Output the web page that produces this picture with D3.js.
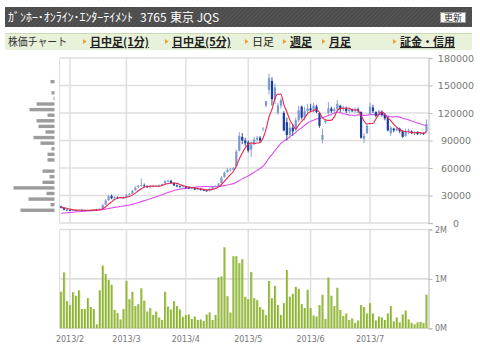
<!DOCTYPE html>
<html><head><meta charset="utf-8">
<script src="https://cdn.jsdelivr.net/npm/d3@7"></script>
<style>body{margin:0;background:#fff;}svg{display:block}</style>
</head><body>
<svg id="c" width="480" height="358"></svg>
<script>
// ---------- DATA ----------
const dates = [
"01-29","01-30","01-31",
"02-01","02-04","02-05","02-06","02-07","02-08","02-12","02-13","02-14","02-15","02-18","02-19","02-20","02-21","02-22","02-25","02-26","02-27","02-28",
"03-01","03-04","03-05","03-06","03-07","03-08","03-11","03-12","03-13","03-14","03-15","03-18","03-19","03-21","03-22","03-25","03-26","03-27","03-28","03-29",
"04-01","04-02","04-03","04-04","04-05","04-08","04-09","04-10","04-11","04-12","04-15","04-16","04-17","04-18","04-19","04-22","04-23","04-24","04-25","04-26","04-30",
"05-01","05-02","05-07","05-08","05-09","05-10","05-13","05-14","05-15","05-16","05-17","05-20","05-21","05-22","05-23","05-24","05-27","05-28","05-29","05-30","05-31",
"06-03","06-04","06-05","06-06","06-07","06-10","06-11","06-12","06-13","06-14","06-17","06-18","06-19","06-20","06-21","06-24","06-25","06-26","06-27","06-28",
"07-01","07-02","07-03","07-04","07-05","07-08","07-09","07-10","07-11","07-12","07-16","07-17","07-18","07-19","07-22","07-23","07-24","07-25","07-26","07-29"];
// prices in thousand yen
const openP = [18,16.5,14.5,14,13.5,14.2,13.8,14.3,14,13.5,14.2,13.8,14.6,14.3,16,20,25,29.5,27,28,27,27.8,28,30.5,32,36,39,40.5,41,40,39,40,40.5,40.8,41,43,45.5,46,43.5,41,40,39.5,40,38.5,37.5,38,36.5,37.5,36,35.5,35,37.5,39.5,40.5,43.5,50,55.5,58,58.5,62,79,94,90,88,80,86,91,93,103.5,128,145,155,135,120,128,120,110,96,104,102,112,127,115,122,125,123,127,120,91,110,120,125,122,124,128,124,125,122,123,122,124,121,92,98,119,126,121,118,121,118,115,98,103,101,103,100,95,100,100,98,99,97,98,100];
const highP = [19,17,15,14.5,14.5,14.6,14.6,14.8,14.3,14.5,14.6,15,15,16,20.5,26,30.5,31,29,29,28.5,28.5,32,33,36,40,41.5,48.5,43,41,40.5,41.5,41.5,42,43,47,47.5,47,44.5,42,41,41,40.5,39.5,38.5,38.5,38,38,37,36.5,38,40,41,43.5,51,56,60,60,61,80,99,98,93,90,88,94,95,95,104,133,163,159,152,131,136,122,115,110,108,115,128,128,127,130,130,131,129,121,103,113,132,127,126,134,129,128,127,126,125,126,126,122,98,108,131,129,122,124,123,120,116,106,104,105,104,101,103,103,101,100,100,99,99,113];
const lowP = [16,14,13.5,13,13.2,13.5,13.5,13.6,13,13.3,13.5,13.6,14,14.2,15.8,19.5,24,26,26.5,26.5,26.5,27,27.5,30,31.5,35,38,39.5,39.5,38,38,39,39.5,40,40.5,42.5,44.5,42.5,40.5,39,38.5,38.5,37.5,37,36.5,36,36,35.5,35,34,34.5,37,39,40,43,49.5,55,56.5,57.5,61,78,86,84,77,72,85,89,88,100,126,140,128,130,118,125,100,90,92,95,100,110,113,112,120,121,121,120,104,87,108,118,120,120,122,121,122,120,120,121,120,120,92,87,97,118,120,115,116,116,112,100,95,99,100,98,93,94,97,97,96,96,96,96,99];
const closeP = [16.5,14.5,14,13.5,14.2,13.8,14.3,14,13.5,14.2,13.8,14.6,14.3,15.5,19.5,24.5,29,27,28,27,27.8,27.3,30.5,31.5,35,38.5,40.5,41.5,40,39,40,40.5,40.8,41,42.5,45.5,46,43.5,41,40,39.5,40,38.5,37.5,38,36.5,37.5,36,35.5,35,37.5,39.5,40.5,43,49.5,55,58,58.5,60,78,95,90,87,79,86,91,93,90,104,133,158,135,148,128,134,101,96,104,100,112,123,115,122,125,123,128,121,106,96,112,125,122,124,130,124,126,122,124,122,124,122,93,95,106,127,122,117,122,118,114,101,104,101,103,100,94,100,101,98,99,97,98,97,108];
// closes of the 24 sessions before the first one (for the moving averages)
const priorCloses = [6.5,6.6,6.8,6.7,6.9,7.0,7.1,7.2,7.4,7.5,7.6,8.2,8.7,9.5,10.5,11.5,12.5,13.5,14,14.3,16,17.5,18,17];
// volume in million shares
const volumeM = [0.74,1.13,0.55,0.47,0.73,0.66,0.77,0.39,0.39,0.61,
0.43,0.39,0.08,0.77,1.27,1.10,0.98,0.88,0.37,0.31,
0.18,0.39,0.96,0.59,0.74,0.45,0.49,0.81,0.56,0.34,
0.41,0.27,0.34,0.22,0.17,0.74,0.44,0.38,0.55,0.45,
0.38,0.23,0.27,0.28,0.19,0.24,0.17,0.18,0.15,0.28,
0.32,0.17,0.27,1.03,1.05,1.64,0.65,0.32,1.46,1.46,
1.32,1.40,0.64,0.59,1.14,0.61,0.57,0.43,0.38,0.27,
0.96,0.61,0.86,0.47,0.27,0.51,1.18,0.64,0.70,0.84,
0.80,0.49,0.41,0.78,0.41,0.26,0.24,0.47,0.68,0.19,
1.03,0.66,0.45,0.82,0.37,0.25,0.30,0.17,0.20,0.11,
0.16,0.47,0.43,0.30,0.51,0.30,0.16,0.24,0.22,0.17,
0.30,0.45,0.14,0.22,0.12,0.28,0.36,0.18,0.11,0.08,
0.12,0.13,0.11,0.68];
// volume-by-price profile (price bin centre, relative volume)
const profilePrice = [13.9,20.0,26.1,32.2,38.3,44.4,50.5,56.6,62.7,68.8,74.9,81.0,87.1,93.2,99.3,105.4,111.5,117.6,123.7,129.8,135.9,142.0,148.1,154.2];
const profileVol = [34,4,26,8,41,12,5,12,0,7,7,3,14,21,9,16,18,7,25,18,1,3,0,4];
const monthDates = ["02-01","03-01","04-01","05-01","06-03","07-01"];
const monthLabels = ["2013/2","2013/3","2013/4","2013/5","2013/6","2013/7"];
const priceTicks = [0,30,60,90,120,150,180];
const priceTickLabels = ["0","30000","60000","90000","120000","150000","180000"];
const volTicks = [0,1,2];
const volTickLabels = ["0M","1M","2M"];
const titleText = "ｶﾞﾝﾎｰ･ｵﾝﾗｲﾝ･ｴﾝﾀｰﾃｲﾒﾝﾄ";
const titleCode = "3765", titleMarket = "東京 JQS";
const navItems = ["日中足(1分)","日中足(5分)","日足","週足","月足","証金・信用"];

// ---------- DRAW ----------
const svg = d3.select("#c");
const JP = "'Noto Sans CJK JP','Noto Sans',sans-serif";
const defs = svg.append("defs");
const pat = defs.append("pattern").attr("id","stripe").attr("width",3).attr("height",3)
  .attr("patternUnits","userSpaceOnUse").attr("patternTransform","rotate(45)");
pat.append("rect").attr("width",3).attr("height",3).attr("fill","#4b4b4b");
pat.append("rect").attr("width",1).attr("height",3).attr("fill","#585858");
const grad = defs.append("linearGradient").attr("id","vg").attr("x1",0).attr("x2",1).attr("y1",0).attr("y2",0);
grad.append("stop").attr("offset","0%").attr("stop-color","#7aa424");
grad.append("stop").attr("offset","100%").attr("stop-color","#b8d46c");

// header
svg.append("rect").attr("x",5).attr("y",7).attr("width",467).attr("height",20).attr("fill","url(#stripe)");
const tt = svg.append("text").attr("x",8).attr("y",21.5).attr("fill","#fff")
  .style("font-family",JP).style("font-size","12px");
tt.append("tspan").attr("textLength",125).text(titleText);
tt.append("tspan").attr("x",140).text(titleCode);
tt.append("tspan").attr("x",170).text(titleMarket);
svg.append("rect").attr("x",440.5).attr("y",12.5).attr("width",25).attr("height",10).attr("fill","#fafafa").attr("stroke","#999");
svg.append("text").attr("x",453).attr("y",21).attr("text-anchor","middle").attr("fill","#333")
  .style("font-family",JP).style("font-size","9px").text("更新");

// nav bar
svg.append("rect").attr("x",5).attr("y",33).attr("width",467).attr("height",17).attr("fill","#e8f1d9");
svg.append("line").attr("x1",5).attr("x2",472).attr("y1",33.5).attr("y2",33.5).attr("stroke","#c9d9b2");
svg.append("text").attr("x",8).attr("y",46).attr("fill","#333").style("font-family",JP).style("font-size","11px")
  .attr("textLength",59).attr("lengthAdjust","spacingAndGlyphs").text("株価チャート");
const navX = [90,172,252,290,329,400];
const navBold = [true,true,false,true,true,true];
navItems.forEach((t,i)=>{
  svg.append("path").attr("d",`M${navX[i]-7},${39}l3.5,2.5l-3.5,2.5z`).attr("fill","#f0a030");
  svg.append("text").attr("x",navX[i]).attr("y",46).attr("fill","#222")
    .style("font-family",JP).style("font-size","11px")
    .style("font-weight",navBold[i]?"bold":"normal")
    .style("text-decoration",navBold[i]?"underline":"none").text(t);
});

// scales
const x = d3.scaleBand().domain(dates).range([59.6,427.9]);
const cx = d => x(d) + x.bandwidth()/2;
const y = d3.scaleLinear().domain([0,180]).range([223,58]);
const yv = d3.scaleLinear().domain([0,2]).range([328.3,229.5]);
const L = 59.5, R = 428.5;

const grid = svg.append("g").attr("stroke","#dedede");
priceTicks.forEach(t=>grid.append("line").attr("x1",L).attr("x2",R).attr("y1",y(t)).attr("y2",y(t)).attr("stroke-width",1.6));
volTicks.forEach(t=>grid.append("line").attr("x1",L).attr("x2",R).attr("y1",yv(t)).attr("y2",yv(t)).attr("stroke-width",1.6));
monthDates.forEach(d=>{
  grid.append("line").attr("x1",cx(d)).attr("x2",cx(d)).attr("y1",58).attr("y2",223).attr("stroke-width",1.4);
  grid.append("line").attr("x1",cx(d)).attr("x2",cx(d)).attr("y1",229.5).attr("y2",328.3).attr("stroke-width",1.4);
});
grid.append("line").attr("x1",L).attr("x2",L).attr("y1",58).attr("y2",223);
grid.append("line").attr("x1",L).attr("x2",L).attr("y1",229.5).attr("y2",328.3);

// right axes
const axP = svg.append("g").attr("transform",`translate(${R},0)`)
  .call(d3.axisRight(y).tickValues(priceTicks).tickSize(4).tickFormat((d,i)=>priceTickLabels[i]));
axP.select(".domain").attr("stroke","#d0d0d0").attr("stroke-width",1.5);
axP.selectAll(".tick line").attr("stroke","#bbb");
axP.selectAll(".tick text").attr("x",27.5).attr("text-anchor","middle").attr("fill","#777")
  .style("font-family","'DejaVu Sans',sans-serif").style("font-size","9.5px");
const axV = svg.append("g").attr("transform",`translate(${R},0)`)
  .call(d3.axisRight(yv).tickValues(volTicks).tickSize(4).tickFormat((d,i)=>volTickLabels[i]));
axV.select(".domain").attr("stroke","#d0d0d0").attr("stroke-width",1.5);
axV.selectAll(".tick line").attr("stroke","#bbb");
axV.selectAll(".tick text").attr("x",6.5).attr("fill","#777")
  .style("font-family","'DejaVu Sans',sans-serif").style("font-size","8px");

// x labels
monthDates.forEach((d,i)=>svg.append("text").attr("x",cx(d)).attr("y",342).attr("text-anchor","middle")
  .attr("fill","#777").style("font-family","'DejaVu Sans',sans-serif").style("font-size","8px").text(monthLabels[i]));

// volume profile
const pw = d3.scaleLinear().domain([0,d3.max(profileVol)]).range([0,41]);
svg.append("g").selectAll("rect").data(profilePrice).join("rect")
  .attr("x",(p,i)=>54.5-pw(profileVol[i])).attr("width",(p,i)=>pw(profileVol[i]))
  .attr("y",p=>y(p)-1.7).attr("height",3.4).attr("fill","#9c9c9c");

// volume bars
svg.append("g").selectAll("rect").data(dates).join("rect")
  .attr("x",d=>cx(d)-0.9).attr("width",2.2)
  .attr("y",(d,i)=>yv(volumeM[i])).attr("height",(d,i)=>yv(0)-yv(volumeM[i]))
  .attr("fill","url(#vg)");

// moving averages
const allClose = priorCloses.concat(closeP);
const ma = n => closeP.map((c,i)=>d3.mean(allClose.slice(i+priorCloses.length-n+1,i+priorCloses.length+1)));
const ma5 = ma(5), ma25 = ma(25);
const line = d3.line().x((v,i)=>cx(dates[i])).y(v=>y(v)).curve(d3.curveMonotoneX);
svg.append("path").attr("d",line(ma25)).attr("fill","none").attr("stroke","#dd4ff0").attr("stroke-width",1.1);

// candles
const up = "#7b98d2", dn = "#1e3d9c";
const cg = svg.append("g");
dates.forEach((d,i)=>{
  const col = closeP[i] >= openP[i] ? up : dn;
  cg.append("line").attr("x1",cx(d)).attr("x2",cx(d)).attr("y1",y(highP[i])).attr("y2",y(lowP[i])).attr("stroke",col).attr("stroke-width",0.9);
  const top = y(Math.max(openP[i],closeP[i])), bot = y(Math.min(openP[i],closeP[i]));
  cg.append("rect").attr("x",cx(d)-1.1).attr("width",2.2).attr("y",top).attr("height",Math.max(0.8,bot-top)).attr("fill",col);
});
svg.append("path").attr("d",line(ma5)).attr("fill","none").attr("stroke","#e8264c").attr("stroke-width",1.1);
</script>
</body></html>
